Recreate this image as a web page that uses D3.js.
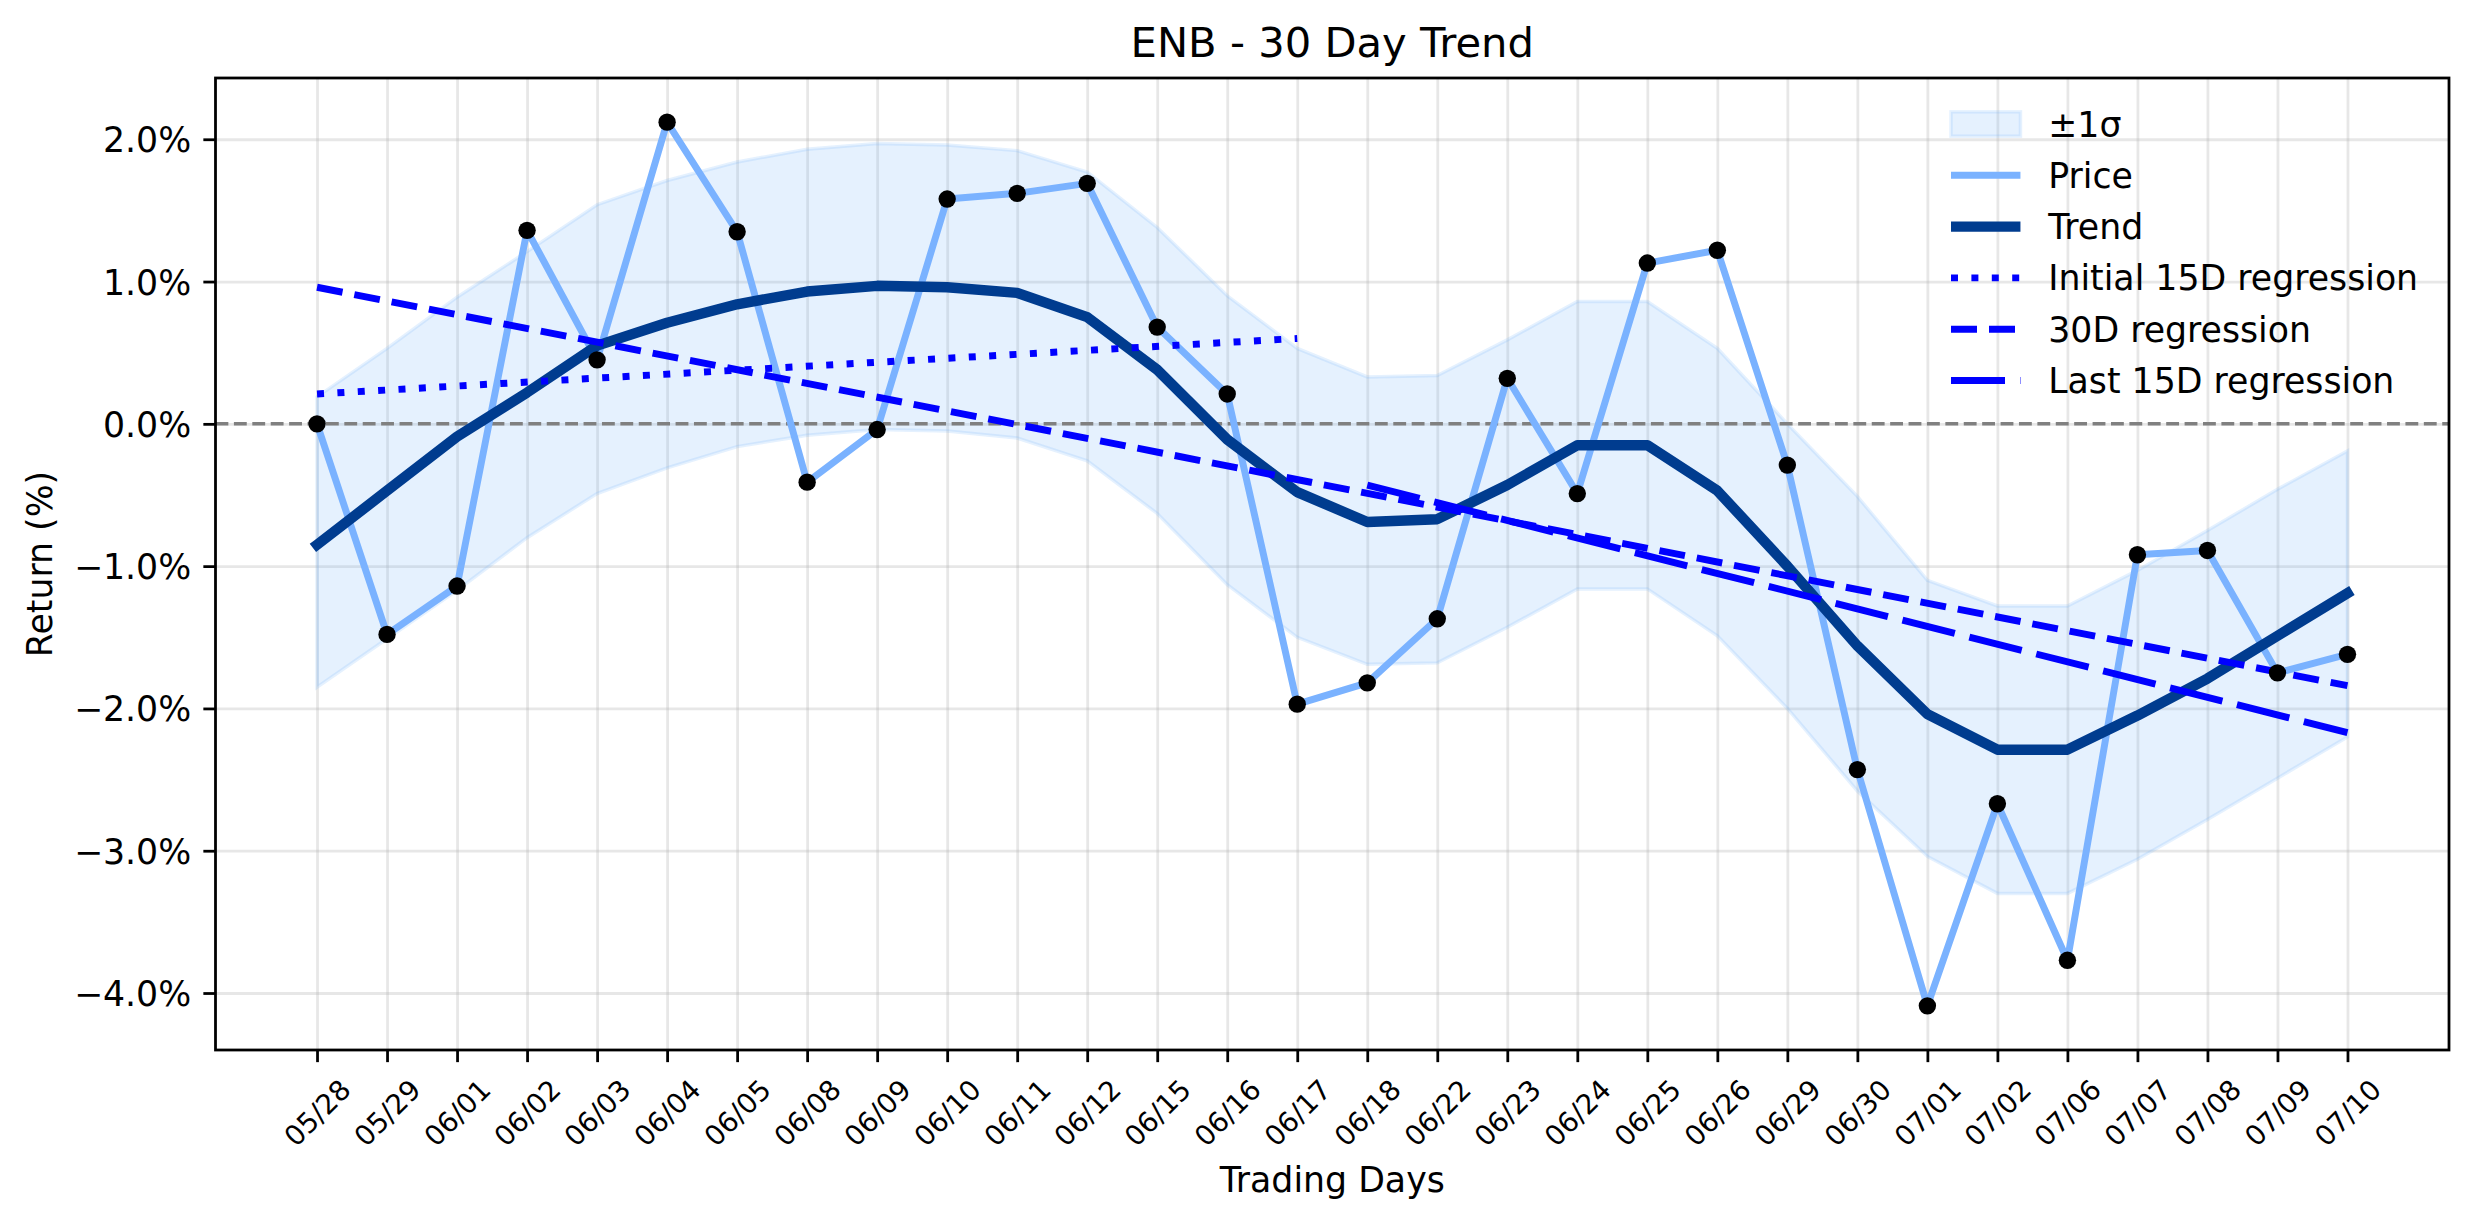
<!DOCTYPE html>
<html>
<head>
<meta charset="utf-8">
<script src="https://cdn.jsdelivr.net/npm/d3@7"></script>
<style>
  body { margin: 0; background: #fff; }
  svg { display: block; font-family: "DejaVu Sans", sans-serif; }
</style>
</head>
<body>
<svg id="chart" width="2474" height="1224"></svg>
<script>
var dates = ["05/28", "05/29", "06/01", "06/02", "06/03", "06/04", "06/05", "06/08", "06/09", "06/10",
  "06/11", "06/12", "06/15", "06/16", "06/17", "06/18", "06/22", "06/23", "06/24", "06/25",
  "06/26", "06/29", "06/30", "07/01", "07/02", "07/06", "07/07", "07/08", "07/09", "07/10"];
var price = [0.00, -1.48, -1.14, 1.36, 0.45, 2.12, 1.35, -0.41, -0.04, 1.58,
  1.62, 1.69, 0.68, 0.21, -1.97, -1.82, -1.37, 0.32, -0.49, 1.13,
  1.22, -0.29, -2.43, -4.09, -2.67, -3.77, -0.92, -0.89, -1.75, -1.62];
var trend = [-0.85, -0.47, -0.09, 0.22, 0.55, 0.71, 0.84, 0.93, 0.97, 0.96,
  0.92, 0.75, 0.38, -0.11, -0.48, -0.69, -0.67, -0.43, -0.15, -0.15,
  -0.47, -1.00, -1.56, -2.04, -2.29, -2.29, -2.05, -1.79, -1.49, -1.19];
var bandHigh = [0.19, 0.53, 0.89, 1.21, 1.54, 1.71, 1.84, 1.93, 1.97, 1.96,
  1.92, 1.77, 1.38, 0.90, 0.53, 0.33, 0.34, 0.59, 0.86, 0.86,
  0.53, 0.00, -0.51, -1.10, -1.28, -1.28, -1.03, -0.75, -0.46, -0.19];
var bandLow = [-1.85, -1.51, -1.17, -0.80, -0.49, -0.31, -0.16, -0.08, -0.04, -0.05,
  -0.10, -0.26, -0.63, -1.13, -1.50, -1.69, -1.68, -1.43, -1.16, -1.16,
  -1.49, -2.00, -2.58, -3.04, -3.30, -3.30, -3.06, -2.78, -2.49, -2.20];
// regression segments: start/end day index and start/end value
var regNames = ["Initial 15D regression", "30D regression", "Last 15D regression"];
var regStart = [0, 0, 15];
var regEnd = [14, 29, 29];
var regFrom = [0.21, 0.96, -0.43];
var regTo = [0.60, -1.84, -2.17];
var yTicks = [-4, -3, -2, -1, 0, 1, 2];

(function () {
  var PT = 250 / 72; // pixels per point
  var svg = d3.select("#chart");
  var left = 215.5, right = 2449, top = 78, bottom = 1050;
  var n = dates.length;

  var priceColor = "#7ab2ff";
  var trendColor = "#003c8f";
  var bandColor = "#7db9fa";
  var regColor = "#0000ff";
  var regDash = ["7,13.4", "26,12", "54,15"];

  var xPad = (n - 1) * 0.05;
  var x = d3.scaleLinear().domain([-xPad, n - 1 + xPad]).range([left, right]);
  var ext = d3.extent(price.concat(trend, bandHigh, bandLow));
  var yPad = (ext[1] - ext[0]) * 0.05;
  var y = d3.scaleLinear().domain([ext[0] - yPad, ext[1] + yPad]).range([bottom, top]);

  var fmtPct = function (v) {
    return (v < 0 ? "\u2212" : "") + Math.abs(v).toFixed(1) + "%";
  };

  // grid
  svg.append("g")
    .attr("transform", "translate(0," + bottom + ")")
    .call(d3.axisBottom(x).tickValues(d3.range(n)).tickSize(-(bottom - top)).tickFormat(""))
    .call(function (g) { g.select(".domain").remove(); })
    .selectAll("line")
    .attr("stroke", "#b0b0b0").attr("stroke-opacity", 0.3).attr("stroke-width", 0.8 * PT);
  svg.append("g")
    .attr("transform", "translate(" + left + ",0)")
    .call(d3.axisLeft(y).tickValues(yTicks).tickSize(-(right - left)).tickFormat(""))
    .call(function (g) { g.select(".domain").remove(); })
    .selectAll("line")
    .attr("stroke", "#b0b0b0").attr("stroke-opacity", 0.3).attr("stroke-width", 0.8 * PT);

  // +-1 sigma band
  var area = d3.area()
    .x(function (d, i) { return x(i); })
    .y0(function (d, i) { return y(bandLow[i]); })
    .y1(function (d, i) { return y(bandHigh[i]); });
  svg.append("path")
    .datum(dates)
    .attr("d", area)
    .attr("fill", bandColor).attr("fill-opacity", 0.2)
    .attr("stroke", bandColor).attr("stroke-opacity", 0.2).attr("stroke-width", PT);

  // zero line
  svg.append("line")
    .attr("x1", left).attr("x2", right)
    .attr("y1", y(0)).attr("y2", y(0))
    .attr("stroke", "#808080").attr("stroke-width", PT)
    .attr("stroke-dasharray", (3.7 * PT) + "," + (1.6 * PT));

  var line = d3.line()
    .x(function (d, i) { return x(i); })
    .y(function (d) { return y(d); });

  svg.append("path")
    .datum(price)
    .attr("d", line)
    .attr("fill", "none").attr("stroke", priceColor).attr("stroke-width", 2 * PT)
    .attr("stroke-linejoin", "round").attr("stroke-linecap", "square");

  svg.append("path")
    .datum(trend)
    .attr("d", line)
    .attr("fill", "none").attr("stroke", trendColor).attr("stroke-width", 3 * PT)
    .attr("stroke-linejoin", "round").attr("stroke-linecap", "square");

  regNames.forEach(function (name, k) {
    svg.append("line")
      .attr("x1", x(regStart[k])).attr("y1", y(regFrom[k]))
      .attr("x2", x(regEnd[k])).attr("y2", y(regTo[k]))
      .attr("stroke", regColor).attr("stroke-width", 2 * PT)
      .attr("stroke-dasharray", regDash[k]);
  });

  svg.append("g")
    .selectAll("circle")
    .data(price)
    .enter()
    .append("circle")
    .attr("cx", function (d, i) { return x(i); })
    .attr("cy", function (d) { return y(d); })
    .attr("r", 2.5 * PT)
    .attr("fill", "#000");

  // axes
  var yAxis = svg.append("g")
    .attr("transform", "translate(" + left + ",0)")
    .call(d3.axisLeft(y).tickValues(yTicks).tickFormat(fmtPct).tickSize(3.5 * PT).tickPadding(3.5 * PT));
  yAxis.select(".domain").remove();
  yAxis.selectAll("line").attr("stroke", "#000").attr("stroke-width", 0.8 * PT);
  yAxis.selectAll("text")
    .attr("fill", "#000")
    .attr("dy", "0.36em")
    .style("font-size", (10 * PT) + "px")
    .style("font-family", "DejaVu Sans");

  var xAxis = svg.append("g")
    .attr("transform", "translate(0," + bottom + ")")
    .call(d3.axisBottom(x).tickValues(d3.range(n))
      .tickFormat(function (i) { return dates[i]; })
      .tickSize(3.5 * PT).tickPadding(3.5 * PT));
  xAxis.select(".domain").remove();
  xAxis.selectAll("line").attr("stroke", "#000").attr("stroke-width", 0.8 * PT);
  xAxis.selectAll("text")
    .attr("fill", "#000")
    .attr("y", 0).attr("dy", null)
    .attr("text-anchor", "middle")
    .attr("dominant-baseline", "central")
    .attr("transform", "translate(0,63) rotate(-45)")
    .style("font-size", (8 * PT) + "px")
    .style("font-family", "DejaVu Sans");

  // frame
  svg.append("rect")
    .attr("x", left).attr("y", top)
    .attr("width", right - left).attr("height", bottom - top)
    .attr("fill", "none").attr("stroke", "#000").attr("stroke-width", 0.8 * PT);

  // titles
  var cx = (left + right) / 2;
  svg.append("text")
    .attr("x", cx).attr("y", 57)
    .attr("text-anchor", "middle")
    .style("font-size", (12 * PT) + "px")
    .text("ENB - 30 Day Trend");
  svg.append("text")
    .attr("x", cx).attr("y", 1192)
    .attr("text-anchor", "middle")
    .style("font-size", (10 * PT) + "px")
    .text("Trading Days");
  svg.append("text")
    .attr("transform", "translate(52," + ((top + bottom) / 2) + ") rotate(-90)")
    .attr("text-anchor", "middle")
    .style("font-size", (10 * PT) + "px")
    .text("Return (%)");

  // legend
  var legLabels = ["\u00b11\u03c3", "Price", "Trend"].concat(regNames);
  var legX = 1951, legW = 2 * PT * 10, legY0 = 124, legStep = 51.3;
  var leg = svg.append("g");
  legLabels.forEach(function (label, i) {
    var cy = legY0 + i * legStep;
    if (i === 0) {
      leg.append("rect")
        .attr("x", legX).attr("y", cy - 0.35 * 10 * PT)
        .attr("width", legW).attr("height", 0.7 * 10 * PT)
        .attr("fill", bandColor).attr("fill-opacity", 0.2)
        .attr("stroke", bandColor).attr("stroke-opacity", 0.2).attr("stroke-width", PT);
    } else {
      var h = leg.append("line")
        .attr("x1", legX).attr("x2", legX + legW)
        .attr("y1", cy).attr("y2", cy);
      if (i === 1) h.attr("stroke", priceColor).attr("stroke-width", 2 * PT);
      else if (i === 2) h.attr("stroke", trendColor).attr("stroke-width", 3 * PT);
      else h.attr("stroke", regColor).attr("stroke-width", 2 * PT).attr("stroke-dasharray", regDash[i - 3]);
    }
    leg.append("text")
      .attr("x", legX + legW + 0.8 * 10 * PT)
      .attr("y", cy)
      .attr("dy", "0.36em")
      .style("font-size", (10 * PT) + "px")
      .text(label);
  });
})();
</script>
</body>
</html>
